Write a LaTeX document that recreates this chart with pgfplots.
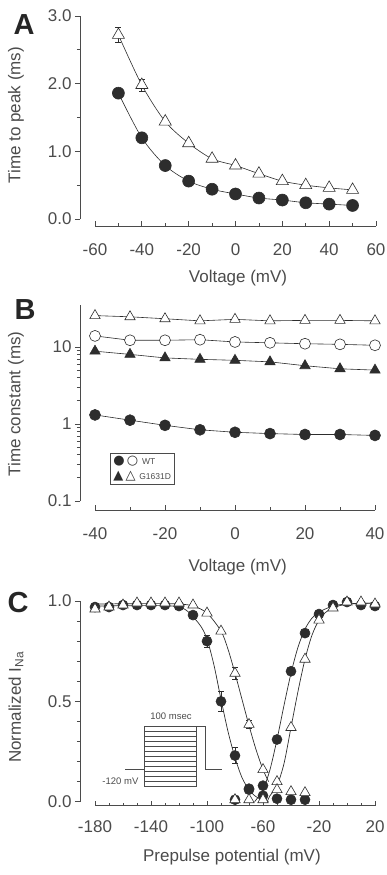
\documentclass[border=0pt]{standalone}
\usepackage{fontspec}
\setmainfont{Liberation Sans}
\newfontfamily\dejavu{DejaVu Sans}
\usepackage{pgfplots}
\pgfplotsset{compat=1.18}
\definecolor{txt}{RGB}{75,75,75}
\definecolor{ink}{RGB}{45,45,45}
\pgfplotsset{
  panel/.style={
    scale only axis,
    axis lines=left,
    axis line style={txt, line width=0.8pt, -},
    xtick align=inside, ytick align=outside,
    major tick length=5pt, minor tick length=3pt,
    tick style={txt, line width=0.7pt},
    tick label style={font=\fontsize{17}{20}\selectfont, text=txt},
    xticklabel style={yshift=-11pt},
    label style={font=\fontsize{17}{20}\selectfont, text=txt},
    axis y line shift=15pt,
    clip=false,
  },
  fillc/.style={ink, line width=0.6pt, mark=*, mark options={fill=ink, draw=ink, solid}},
  opent/.style={ink, line width=0.6pt, mark=triangle*, mark options={fill=white, draw=ink, solid}},
  openc/.style={ink, line width=0.6pt, mark=*, mark options={fill=white, draw=ink, solid}},
  fillt/.style={ink, line width=0.6pt, mark=triangle*, mark options={fill=ink, draw=ink, solid}},
}
\begin{document}
\begin{tikzpicture}
%%%%%%%%%%%%%%%% A
\begin{axis}[panel,
  at={(95pt,-219pt)}, anchor=south west,
  width=281pt, height=203pt,
  xmin=-60, xmax=60, ymin=0, ymax=3,
  axis x line shift=7pt,
  xticklabel style={yshift=-3pt},
  xtick={-60,-40,-20,0,20,40,60}, xticklabels={-60,-40,-20,0,20,40,60},
  minor x tick num=1,
  ytick={0,1,2,3}, yticklabels={0.0,1.0,2.0,3.0}, minor y tick num=1,
  xlabel={Voltage (mV)}, ylabel={Time to peak (ms)},
  xlabel style={at={(axis description cs:0.509,-0.29)}, anchor=center},
  ylabel style={at={(axis description cs:-0.281,0.512)}, anchor=center, rotate=0},
]
\addplot[fillc, smooth, mark size=6pt] coordinates {
(-50,1.86) (-40,1.20) (-30,0.79) (-20,0.56) (-10,0.44) (0,0.37) (10,0.31) (20,0.28) (30,0.24) (40,0.22) (50,0.20)};
\addplot[opent, smooth, mark size=7pt,
  error bars/.cd, y dir=both, y explicit, error bar style={ink, line width=0.7pt}, error mark options={rotate=90, mark size=3pt, ink}] coordinates {
(-50,2.72) +- (0,0.11) (-40,1.98) +- (0,0.09) (-30,1.44) +- (0,0) (-20,1.12) +- (0,0) (-10,0.89) +- (0,0) (0,0.79) +- (0,0) (10,0.67) +- (0,0) (20,0.56) +- (0,0) (30,0.50) +- (0,0) (40,0.46) +- (0,0) (50,0.43) +- (0,0)};
\end{axis}
%%%%%%%%%%%%%%%% B
\begin{axis}[panel,
  at={(95pt,-501pt)}, anchor=south west,
  width=280pt, height=196pt,
  ymode=log,
  xmin=-40, xmax=40, ymin=0.1, ymax=35,
  axis x line shift=9pt,
  xticklabel style={yshift=-3pt},
  xtick={-40,-20,0,20,40}, xticklabels={-40,-20,0,20,40},
  minor x tick num=1,
  ytick={0.1,1,10}, yticklabels={0.1,1,10},
  xlabel={Voltage (mV)}, ylabel={Time constant (ms)},
  xlabel style={at={(axis description cs:0.51,-0.335)}, anchor=center},
  ylabel style={at={(axis description cs:-0.282,0.495)}, anchor=center, rotate=0},
]
\addplot[fillc, mark size=5.5pt] coordinates {
(-40,1.31) (-30,1.12) (-20,0.96) (-10,0.84) (0,0.78) (10,0.75) (20,0.73) (30,0.73) (40,0.71)};
\addplot[openc, mark size=5.5pt] coordinates {
(-40,13.9) (-30,12.2) (-20,12.2) (-10,12.4) (0,11.6) (10,11.3) (20,11.0) (30,10.8) (40,10.5)};
\addplot[fillt, mark size=6pt] coordinates {
(-40,8.8) (-30,8.0) (-20,7.2) (-10,6.9) (0,6.7) (10,6.4) (20,5.7) (30,5.2) (40,5.0)};
\addplot[opent, mark size=6pt] coordinates {
(-40,25.5) (-30,24.6) (-20,23.2) (-10,21.8) (0,22.8) (10,21.8) (20,22.1) (30,22.1) (40,21.8)};
\node[draw=txt, line width=0.5pt, anchor=north west, align=left, inner sep=3pt,
  font=\fontsize{8.5}{14}\selectfont, text=txt]
  at (axis description cs:0.054,0.245)
  {{\dejavu\fontsize{13}{14}\selectfont\color{ink}●\,○}\, WT\\[1pt]
   {\dejavu\fontsize{13}{14}\selectfont\color{ink}▲\,△}\, G1631D};
\end{axis}
%%%%%%%%%%%%%%%% C
\begin{axis}[panel,
  at={(95pt,-801.7pt)}, anchor=south west,
  width=280pt, height=200.7pt,
  xmin=-180, xmax=20, ymin=0, ymax=1,
  axis x line shift=4pt,
  xtick={-180,-140,-100,-60,-20,20}, xticklabels={-180,-140,-100,-60,-20,20},
  minor x tick num=3,
  ytick={0,0.5,1}, yticklabels={0.0,0.5,1.0}, minor y tick num=4,
  xlabel={Prepulse potential (mV)}, ylabel={Normalized I\textsubscript{Na}},
  xlabel style={at={(axis description cs:0.489,-0.276)}, anchor=center},
  ylabel style={at={(axis description cs:-0.282,0.47)}, anchor=center, rotate=0},
]
% fit curves
\addplot[ink, line width=0.7pt, smooth] coordinates {
(-180,0.975) (-150,0.977) (-125,0.975) (-115,0.955) (-105,0.88) (-100,0.81) (-95,0.68) (-90,0.51) (-85,0.35) (-80,0.22) (-75,0.12) (-70,0.06) (-65,0.025) (-60,0.008) (-56,0.0)};
\addplot[ink, line width=0.7pt, smooth] coordinates {
(-180,0.985) (-140,0.987) (-120,0.985) (-110,0.975) (-100,0.94) (-90,0.85) (-85,0.76) (-80,0.64) (-75,0.51) (-70,0.38) (-65,0.26) (-60,0.16) (-56,0.10)};
\addplot[ink, line width=0.7pt, smooth] coordinates {
(-66,0.0) (-60,0.06) (-55,0.16) (-50,0.31) (-45,0.48) (-40,0.64) (-35,0.77) (-30,0.86) (-25,0.915) (-20,0.945) (-10,0.975) (0,0.985) (20,0.99)};
\addplot[ink, line width=0.7pt, smooth] coordinates {
(-57,0.0) (-55,0.03) (-50,0.08) (-45,0.19) (-40,0.37) (-35,0.55) (-30,0.71) (-25,0.83) (-20,0.905) (-15,0.945) (-10,0.965) (0,0.985) (20,0.99)};
% WT markers
\addplot[fillc, only marks, mark size=5pt,
  error bars/.cd, y dir=both, y explicit, error bar style={ink, line width=0.7pt}, error mark options={rotate=90, mark size=3pt, ink}] coordinates {
(-180,0.97) +- (0,0) (-170,0.97) +- (0,0) (-160,0.98) +- (0,0) (-150,0.98) +- (0,0) (-140,0.98) +- (0,0) (-130,0.98) +- (0,0) (-120,0.975) +- (0,0) (-110,0.93) +- (0,0) (-100,0.80) +- (0,0.03) (-90,0.50) +- (0,0.05) (-80,0.23) +- (0,0.04) (-70,0.065) +- (0,0) (-60,0.03) +- (0,0) (-50,0.015) +- (0,0) (-40,0.01) +- (0,0) (-30,0.01) +- (0,0)};
\addplot[fillc, only marks, mark size=5pt] coordinates {
(-80,0.01) (-70,0.06) (-60,0.08) (-50,0.31) (-40,0.65) (-30,0.84) (-20,0.935) (-10,0.98) (0,0.995) (10,0.98) (20,0.975)};
% G1631D markers
\addplot[opent, only marks, mark size=6pt,
  error bars/.cd, y dir=both, y explicit, error bar style={ink, line width=0.7pt}, error mark options={rotate=90, mark size=3pt, ink}] coordinates {
(-180,0.96) +- (0,0) (-170,0.97) +- (0,0) (-160,0.98) +- (0,0) (-150,0.99) +- (0,0) (-140,0.99) +- (0,0) (-130,0.99) +- (0,0) (-120,0.99) +- (0,0) (-110,0.98) +- (0,0) (-100,0.94) +- (0,0) (-90,0.85) +- (0,0) (-80,0.64) +- (0,0.03) (-70,0.385) +- (0,0.02) (-60,0.16) +- (0,0) (-50,0.10) +- (0,0) (-40,0.05) +- (0,0) (-30,0.045) +- (0,0)};
\addplot[opent, only marks, mark size=6pt] coordinates {
(-80,0.01) (-70,0.01) (-60,0.01) (-50,0.06) (-40,0.37) (-30,0.71) (-20,0.905) (-10,0.965) (0,0.995) (10,0.995) (20,0.985)};
\end{axis}
%%%%%%%%%%%%%%%% protocol inset (C)
\begin{scope}[txt, line width=0.6pt]
\draw (144pt,-726pt) rectangle (196.7pt,-786pt);
\foreach \k in {1,...,11} { \draw (144pt,-726pt-\k*5pt) -- (196.7pt,-726pt-\k*5pt); }
\draw (196.7pt,-726pt) -- (205pt,-726pt) -- (205pt,-769pt) -- (221.7pt,-769pt);
\draw (125pt,-769pt) -- (144pt,-769pt);
\node[font=\fontsize{9.5}{11}\selectfont, text=txt] at (171pt,-716.5pt) {100 msec};
\node[font=\fontsize{9.5}{11}\selectfont, text=txt, anchor=east] at (142pt,-781.5pt) {-120 mV};
\end{scope}
%%%%%%%%%%%%%%%% panel letters
\node[font=\fontsize{29}{30}\selectfont\bfseries, text=black!85] at (24pt,-25pt) {A};
\node[font=\fontsize{29}{30}\selectfont\bfseries, text=black!85] at (25pt,-310pt) {B};
\node[font=\fontsize{29}{30}\selectfont\bfseries, text=black!85] at (18pt,-603pt) {C};
\pgfresetboundingbox
\useasboundingbox (0,0) rectangle (387pt,-875pt);
\end{tikzpicture}
\end{document}
